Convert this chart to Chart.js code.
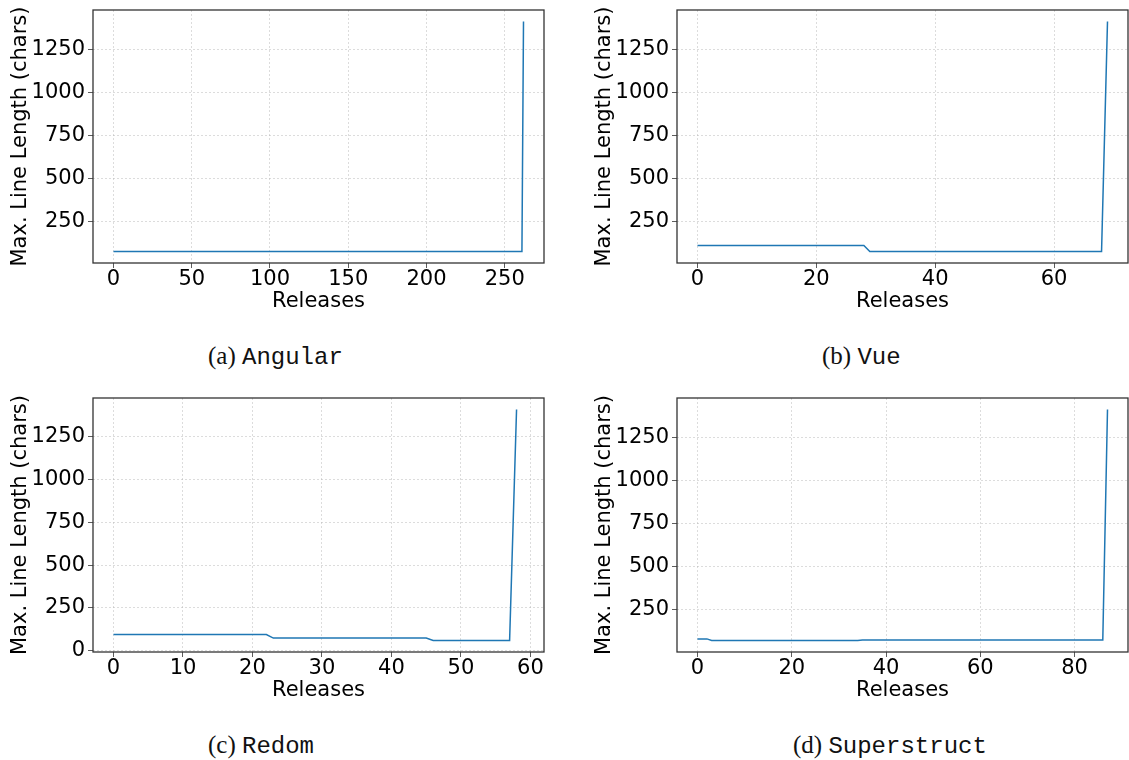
<!DOCTYPE html>
<html>
<head>
<meta charset="utf-8">
<script src="https://cdn.jsdelivr.net/npm/chart.js@4"></script>
<style>
  body { margin: 0; background: #fff; width: 1129px; height: 760px; position: relative; overflow: hidden; }
  canvas { position: absolute; }
  .cap { position: absolute; font-family: "Liberation Serif", "DejaVu Serif", serif; font-size: 25px; line-height: 28px; color: #111; white-space: nowrap; }
  .cap span { font-family: "Liberation Mono", "DejaVu Sans Mono", monospace; font-size: 24px; }
</style>
</head>
<body>
<canvas id="angular" width="584" height="323" style="left:0;top:0"></canvas>
<canvas id="vue" width="545" height="323" style="left:584px;top:0"></canvas>
<canvas id="redom" width="584" height="324" style="left:0;top:388px"></canvas>
<canvas id="superstruct" width="545" height="324" style="left:584px;top:388px"></canvas>
<div class="cap" style="left:208px;top:342px">(a) <span>Angular</span></div>
<div class="cap" style="left:822px;top:342px">(b) <span>Vue</span></div>
<div class="cap" style="left:208px;top:731px">(c) <span>Redom</span></div>
<div class="cap" style="left:793px;top:731px">(d) <span>Superstruct</span></div>
<script>
// Max line length per release (index = release number)
const angularValues = [
  75, 75, 75, 75, 75, 75, 75, 75, 75, 75, 75, 75, 75, 75, 75, 75, 75, 75, 75, 75,
  75, 75, 75, 75, 75, 75, 75, 75, 75, 75, 75, 75, 75, 75, 75, 75, 75, 75, 75, 75,
  75, 75, 75, 75, 75, 75, 75, 75, 75, 75, 75, 75, 75, 75, 75, 75, 75, 75, 75, 75,
  75, 75, 75, 75, 75, 75, 75, 75, 75, 75, 75, 75, 75, 75, 75, 75, 75, 75, 75, 75,
  75, 75, 75, 75, 75, 75, 75, 75, 75, 75, 75, 75, 75, 75, 75, 75, 75, 75, 75, 75,
  75, 75, 75, 75, 75, 75, 75, 75, 75, 75, 75, 75, 75, 75, 75, 75, 75, 75, 75, 75,
  75, 75, 75, 75, 75, 75, 75, 75, 75, 75, 75, 75, 75, 75, 75, 75, 75, 75, 75, 75,
  75, 75, 75, 75, 75, 75, 75, 75, 75, 75, 75, 75, 75, 75, 75, 75, 75, 75, 75, 75,
  75, 75, 75, 75, 75, 75, 75, 75, 75, 75, 75, 75, 75, 75, 75, 75, 75, 75, 75, 75,
  75, 75, 75, 75, 75, 75, 75, 75, 75, 75, 75, 75, 75, 75, 75, 75, 75, 75, 75, 75,
  75, 75, 75, 75, 75, 75, 75, 75, 75, 75, 75, 75, 75, 75, 75, 75, 75, 75, 75, 75,
  75, 75, 75, 75, 75, 75, 75, 75, 75, 75, 75, 75, 75, 75, 75, 75, 75, 75, 75, 75,
  75, 75, 75, 75, 75, 75, 75, 75, 75, 75, 75, 75, 75, 75, 75, 75, 75, 75, 75, 75,
  75, 75, 1410
];
const vueValues = [
  110, 110, 110, 110, 110, 110, 110, 110, 110, 110, 110, 110, 110, 110, 110, 110, 110, 110, 110, 110,
  110, 110, 110, 110, 110, 110, 110, 110, 110,
  75, 75, 75, 75, 75, 75, 75, 75, 75, 75, 75, 75, 75, 75, 75, 75, 75, 75, 75, 75,
  75, 75, 75, 75, 75, 75, 75, 75, 75, 75, 75, 75, 75, 75, 75, 75, 75, 75, 75, 75,
  1410
];
// last release has no value in the plot (axis still extends to it)
const redomValues = [
  94, 94, 94, 94, 94, 94, 94, 94, 94, 94, 94, 94, 94, 94, 94, 94, 94, 94, 94, 94,
  94, 94, 94,
  73, 73, 73, 73, 73, 73, 73, 73, 73, 73, 73, 73, 73, 73, 73, 73, 73, 73, 73, 73,
  73, 73, 73,
  59, 59, 59, 59, 59, 59, 59, 59, 59, 59, 59, 59,
  1410, null
];
const superstructValues = [
  82, 82, 82,
  73, 73, 73, 73, 73, 73, 73, 73, 73, 73, 73, 73, 73, 73, 73, 73, 73, 73, 73, 73,
  73, 73, 73, 73, 73, 73, 73, 73, 73, 73, 73, 73,
  76, 76, 76, 76, 76, 76, 76, 76, 76, 76, 76, 76, 76, 76, 76, 76, 76, 76, 76, 76,
  76, 76, 76, 76, 76, 76, 76, 76, 76, 76, 76, 76, 76, 76, 76, 76, 76, 76, 76, 76,
  76, 76, 76, 76, 76, 76, 76, 76, 76, 76, 76, 76,
  1410
];

// tick labels
const yTicks = [0, 250, 500, 750, 1000, 1250];
const angularTicks = [0, 50, 100, 150, 200, 250];
const vueTicks = [0, 20, 40, 60];
const redomTicks = [0, 10, 20, 30, 40, 50, 60];
const superstructTicks = [0, 20, 40, 60, 80];

const tickFont = { family: "DejaVu Sans", size: 21 };
const gridColor = "rgba(175,175,175,0.55)";

// full box around the plot area, like matplotlib spines
const frame = {
  id: "frame",
  afterDatasetsDraw(chart) {
    const a = chart.chartArea;
    const ctx = chart.ctx;
    ctx.save();
    ctx.strokeStyle = "#333";
    ctx.lineWidth = 1.3;
    ctx.strokeRect(a.left, a.top, a.right - a.left, a.bottom - a.top);
    ctx.restore();
  },
};

function makePanel(id, values, xTicks, padRight) {
  const points = values.map((v, i) => ({ x: i, y: v }));
  const last = values.length - 1;
  const known = values.filter((v) => v !== null);
  const lo = Math.min(...known);
  const hi = Math.max(...known);
  const xPad = last * 0.05;
  const yPad = (hi - lo) * 0.05;

  new Chart(document.getElementById(id), {
    type: "line",
    data: {
      datasets: [
        {
          data: points,
          borderColor: "#1f77b4",
          borderWidth: 1.5,
          pointRadius: 0,
          tension: 0,
          fill: false,
        },
      ],
    },
    options: {
      responsive: false,
      animation: false,
      layout: { padding: { top: 10, right: padRight, left: 0, bottom: 0 } },
      plugins: { legend: { display: false }, tooltip: { enabled: false } },
      scales: {
        x: {
          type: "linear",
          min: -xPad,
          max: last + xPad,
          afterBuildTicks: (axis) => {
            axis.ticks = xTicks.map((v) => ({ value: v }));
          },
          afterFit: (s) => {
            s.height = 60;
            s.paddingLeft = 0;
            s.paddingRight = 0;
          },
          ticks: {
            font: tickFont,
            color: "#000",
            padding: -1,
            maxRotation: 0,
            autoSkip: false,
            callback: (v) => String(v),
          },
          grid: { color: gridColor, lineWidth: 0.8, tickColor: "#333", tickLength: 5 },
          border: { display: false, dash: [2, 2] },
          title: {
            display: true,
            text: "Releases",
            font: tickFont,
            color: "#000",
            padding: { top: 0, bottom: 9 },
          },
        },
        y: {
          min: lo - yPad,
          max: hi + yPad,
          afterBuildTicks: (axis) => {
            axis.ticks = yTicks
              .filter((v) => v >= axis.min && v <= axis.max)
              .map((v) => ({ value: v }));
          },
          afterFit: (s) => {
            s.width = 93;
            s.paddingTop = 0;
            s.paddingBottom = 0;
          },
          ticks: {
            font: tickFont,
            color: "#000",
            padding: 3,
            callback: (v) => String(v),
          },
          grid: { color: gridColor, lineWidth: 0.8, tickColor: "#333", tickLength: 5 },
          border: { display: false, dash: [2, 2] },
          title: {
            display: true,
            text: "Max. Line Length (chars)",
            font: tickFont,
            color: "#000",
            padding: { top: 8, bottom: 0 },
          },
        },
      },
    },
    plugins: [frame],
  });
}

makePanel("angular", angularValues, angularTicks, 40);
makePanel("vue", vueValues, vueTicks, 1);
makePanel("redom", redomValues, redomTicks, 40);
makePanel("superstruct", superstructValues, superstructTicks, 1);
</script>
</body>
</html>
